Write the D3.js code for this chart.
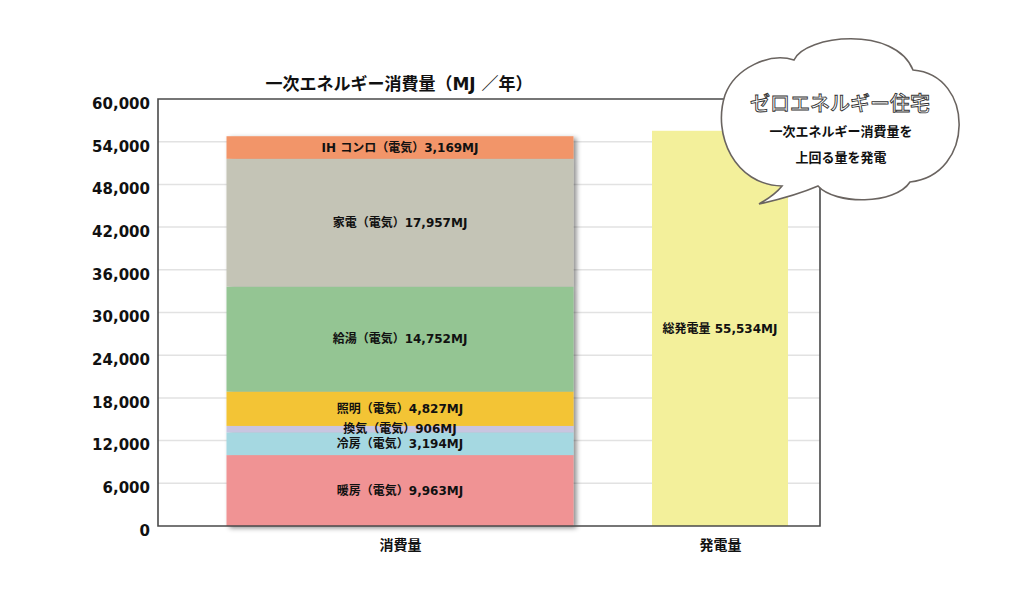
<!DOCTYPE html>
<html>
<head>
<meta charset="utf-8">
<script src="https://cdn.jsdelivr.net/npm/d3@7"></script>
<style>
  body { margin: 0; background: #fff; }
  text { font-family: "DejaVu Sans", "Noto Sans CJK JP", sans-serif; font-weight: bold; fill: #111; }
</style>
</head>
<body>
<div id="chart"></div>
<script>
var categories = ["消費量", "発電量"];
var useNames = ["暖房", "冷房", "換気", "照明", "給湯", "家電", "IH コンロ"];
var useValues = [9963, 3194, 906, 4827, 14752, 17957, 3169];
var genName = "総発電量";
var genValue = 55534;
var yTicks = [0, 6000, 12000, 18000, 24000, 30000, 36000, 42000, 48000, 54000, 60000];

function init() {
    var w = 1024;
    var h = 601;
    var left = 158, right = 820, top = 99, bottom = 526;

    var useColors = ["#f09394", "#a5d8e1", "#c9c5e0", "#f3c436", "#94c593", "#c4c4b6", "#f29569"];
    var genColor = "#f3f09b";
    var barWidths = [347, 136];

    var fmt = d3.format(",");

    var yScale = d3.scaleLinear()
                   .domain([0, 60000])
                   .range([bottom, top]);

    var xScale = d3.scalePoint()
                   .domain(categories)
                   .range([400, 720]);

    var svg = d3.select("#chart")
                .append("svg")
                .attr("width", w)
                .attr("height", h);

    var defs = svg.append("defs");
    defs.append("filter")
        .attr("id", "shadow")
        .attr("x", "-10%").attr("y", "-10%")
        .attr("width", "120%").attr("height", "120%")
        .append("feDropShadow")
        .attr("dx", 3)
        .attr("dy", 2)
        .attr("stdDeviation", 2.5)
        .attr("flood-color", "#000")
        .attr("flood-opacity", 0.45);

    // grid
    svg.append("g")
       .selectAll("line")
       .data(yTicks.slice(1, -1))
       .enter()
       .append("line")
       .attr("x1", left)
       .attr("x2", right)
       .attr("y1", function(d) { return yScale(d); })
       .attr("y2", function(d) { return yScale(d); })
       .attr("stroke", "#e2e2e2")
       .attr("stroke-width", 1.5);

    // stacked consumption bar
    var row = {};
    useNames.forEach(function(n, i) { row[n] = useValues[i]; });
    var series = d3.stack().keys(useNames)([row]);

    var x0 = xScale(categories[0]) - barWidths[0] / 2;
    var stackG = svg.append("g").attr("filter", "url(#shadow)");
    stackG.selectAll("rect")
          .data(series)
          .enter()
          .append("rect")
          .attr("x", x0)
          .attr("width", barWidths[0])
          .attr("y", function(d) { return yScale(d[0][1]); })
          .attr("height", function(d) { return yScale(d[0][0]) - yScale(d[0][1]); })
          .attr("fill", function(d, i) { return useColors[i]; });

    svg.append("g")
       .selectAll("text")
       .data(series)
       .enter()
       .append("text")
       .attr("x", xScale(categories[0]))
       .attr("y", function(d) { return yScale((d[0][0] + d[0][1]) / 2); })
       .attr("dy", "0.36em")
       .attr("text-anchor", "middle")
       .style("font-size", "12px")
       .text(function(d, i) { return d.key + "（電気）" + fmt(useValues[i]) + "MJ"; });

    // generation bar
    svg.append("rect")
       .attr("x", xScale(categories[1]) - barWidths[1] / 2)
       .attr("width", barWidths[1])
       .attr("y", yScale(genValue))
       .attr("height", yScale(0) - yScale(genValue))
       .attr("fill", genColor);

    svg.append("text")
       .attr("x", xScale(categories[1]))
       .attr("y", yScale(genValue / 2))
       .attr("dy", "0.36em")
       .attr("text-anchor", "middle")
       .style("font-size", "12px")
       .text(genName + " " + fmt(genValue) + "MJ");

    // frame
    var frame = svg.append("g")
                   .attr("stroke", "#4a4a4a")
                   .attr("stroke-width", 1.6)
                   .attr("fill", "none");
    frame.append("path")
         .attr("d", "M" + left + "," + top + "H" + right + "V" + bottom + "H" + left + "Z");

    // y axis labels
    var yAxis = d3.axisLeft(yScale)
                  .tickValues(yTicks)
                  .tickSize(0)
                  .tickPadding(8)
                  .tickFormat(fmt);
    var ya = svg.append("g")
                .attr("transform", "translate(" + left + ",0)")
                .call(yAxis);
    ya.select(".domain").remove();
    ya.selectAll("text")
      .attr("dy", "0.62em")
      .style("font-size", "15px")
      .style("font-family", "\"DejaVu Sans\", sans-serif")
      .style("font-weight", "bold")
      .attr("fill", "#111");

    // x axis labels
    var xAxis = d3.axisBottom(xScale).tickSize(0).tickPadding(14);
    var xa = svg.append("g")
                .attr("transform", "translate(0," + bottom + ")")
                .call(xAxis);
    xa.select(".domain").remove();
    xa.selectAll("text")
      .style("font-size", "14px")
      .style("font-family", "\"Noto Sans CJK JP\", sans-serif")
      .style("font-weight", "bold")
      .attr("fill", "#111");

    // title
    svg.append("text")
       .attr("x", 399)
       .attr("y", 90)
       .attr("text-anchor", "middle")
       .style("font-size", "17px")
       .text("一次エネルギー消費量（MJ ／年）");

    // cloud callout
    var cloud = "M725,95" +
                "C735,68 770,52 794,60" +
                "C805,35 895,25 913,70" +
                "C975,75 975,175 910,182" +
                "C895,205 835,205 818,186" +
                "Q795,196 759,204" +
                "Q775,195 782,186" +
                "C735,185 712,135 725,95Z";
    svg.append("path")
       .attr("d", cloud)
       .attr("fill", "#fff")
       .attr("stroke", "#6a6460")
       .attr("stroke-width", 1.6);

    svg.append("text")
       .attr("x", 840)
       .attr("y", 111)
       .attr("text-anchor", "middle")
       .style("font-family", "\"Noto Sans CJK JP\", sans-serif")
       .style("font-weight", "500")
       .style("font-size", "20px")
       .style("fill", "#fff")
       .attr("stroke", "#333")
       .attr("stroke-width", 0.9)
       .text("ゼロエネルギー住宅");

    svg.append("text")
       .attr("x", 841)
       .attr("y", 136)
       .attr("text-anchor", "middle")
       .style("font-family", "\"Noto Sans CJK JP\", sans-serif")
       .style("font-size", "13px")
       .text("一次エネルギー消費量を");

    svg.append("text")
       .attr("x", 841)
       .attr("y", 162)
       .attr("text-anchor", "middle")
       .style("font-family", "\"Noto Sans CJK JP\", sans-serif")
       .style("font-size", "13px")
       .text("上回る量を発電");
}

window.onload = init;
</script>
</body>
</html>
